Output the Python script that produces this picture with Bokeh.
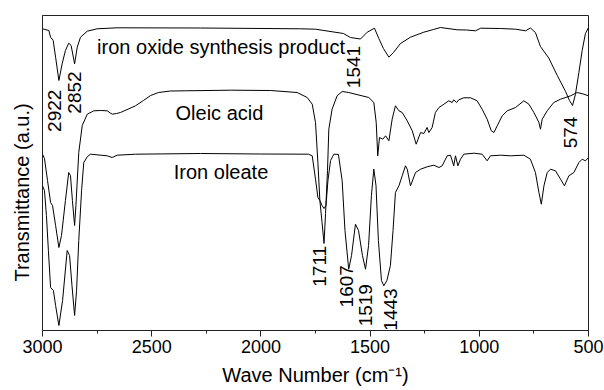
import math
from bokeh.plotting import figure
from bokeh.models import Range1d, FixedTicker, Label, ColumnDataSource
from bokeh.core.properties import value
from bokeh.embed import file_html
from bokeh.resources import INLINE

# ---------------- data ----------------
product_wn = [3000, 2971, 2963, 2951, 2940, 2925, 2910, 2895, 2880, 2869, 2853, 2841, 2826, 2795,
              2750, 2658, 2277, 1819, 1750, 1622, 1590, 1544, 1513, 1480, 1460, 1439, 1414, 1393,
              1361, 1315, 1254, 1210, 1178, 1101, 1059, 1017, 994, 903, 834, 788, 766, 743, 720,
              682, 643, 605, 587, 573, 560, 544, 529, 514, 500]
product_t = [301.7, 300, 293.3, 290, 273.3, 250, 266.7, 280, 287.3, 285, 266.7, 283.3, 293.3, 299.3,
             301.7, 302.7, 302.5, 301.7, 301.3, 297, 293, 291.5, 298.3, 302.3, 292, 282, 273.3, 278,
             287, 293.3, 298.3, 301, 303, 300.7, 300.5, 299.7, 302.3, 302, 301.3, 299.7, 302.5, 298, 284,
             272.5, 255, 239, 230, 225, 236, 258, 280, 297, 303]

oleic_wn = [3000, 2991, 2977, 2963, 2954, 2940, 2925, 2913, 2895, 2880, 2872, 2863, 2853, 2847, 2834,
            2818, 2795, 2765, 2734, 2704, 2681, 2661, 2643, 2574, 2538, 2505, 2469, 2414, 2345, 2139,
            1956, 1834, 1788, 1765, 1750, 1739, 1730, 1720, 1711, 1704, 1695, 1689, 1674, 1651, 1628,
            1598, 1506, 1483, 1472, 1465, 1457, 1442, 1429, 1414, 1399, 1384, 1368, 1353, 1330, 1307,
            1289, 1269, 1254, 1239, 1231, 1216, 1201, 1185, 1162, 1140, 1124, 1117, 1104, 1094, 1071,
            1040, 1010, 987, 964, 945, 933, 918, 895, 872, 834, 796, 773, 750, 727, 720, 712, 689,
            659, 628, 582, 552, 521, 500]
oleic_t = [176.3, 172, 150, 128, 125, 105, 83, 95, 130, 158, 155, 130, 105, 125, 178,
           205, 216.3, 219.7, 220, 219.7, 216.3, 217, 218, 224.7, 230, 235, 238, 239.5, 239.7, 240.3,
           240, 238, 233, 226.3, 208, 168, 130, 108, 87, 117, 160, 201.3, 221.3, 234.7, 239,
           238, 233, 228, 208, 174.7, 193, 191.3, 194.7, 189.7, 211.3, 224.7, 219.7, 218, 209.7, 199.7,
           186.3, 198, 197, 203, 198, 203, 218, 223, 226.3, 229.7, 228, 230.7, 228, 230.7, 232.7,
           232.7, 229.7, 221.3, 211.3, 199.7, 198, 204.7, 214.7, 219.7, 223, 229.7, 226.3, 218, 208, 201.3, 211.3, 219.7,
           228, 231.3, 234.7, 238, 236.3, 234.7]

oleate_wn = [3000, 2991, 2982, 2973, 2963, 2950, 2940, 2925, 2908, 2887, 2876, 2865, 2853, 2844, 2834,
             2821, 2811, 2794, 2780, 2704, 2681, 2658, 2574, 2277, 2002, 1782, 1765, 1750, 1739, 1730,
             1720, 1711, 1702, 1693, 1681, 1666, 1645, 1628, 1615, 1598, 1585, 1567, 1553, 1535, 1521,
             1507, 1494, 1483, 1473, 1462, 1448, 1437, 1423, 1407, 1395, 1384, 1368, 1353, 1338, 1330,
             1315, 1292, 1269, 1239, 1208, 1185, 1170, 1147, 1132, 1117, 1109, 1098, 1086, 1071, 1025,
             987, 964, 949, 903, 857, 796, 766, 743, 727, 716, 704, 689, 674, 651, 628, 610, 590, 567,
             544, 529, 514, 500]
oleate_t = [144.7, 140, 115, 80, 43, 40, 25, 5, 30, 80, 75, 45, 15, 40, 90,
            140, 168, 174, 176.3, 174.7, 173, 175.3, 176.3, 177, 176.5, 176.3, 174.7, 151.3, 133, 130,
            125, 122, 125, 150, 170, 176.3, 176, 150, 100, 61.3, 75, 106.3, 100, 75, 61.3,
            85, 135, 161.3, 145, 90, 50, 44.7, 50, 65, 100, 138, 144.7, 154.7, 164.7, 161.3,
            144.7, 158, 161.3, 163.7, 165.3, 163, 164.7, 174.7, 175.3, 164.7, 174.7, 164.7, 171.3, 176.3, 177.3,
            176.3, 169.7, 174.7, 175.3, 174.7, 175.3, 171.3, 158, 138, 126.3, 144.7, 158, 161.3, 159.7, 151.3, 144.7, 154.7, 158,
            168, 171.3, 169.7, 173]

curve_names = ["iron oxide synthesis product", "Oleic acid", "Iron oleate"]
peak_labels = ["2922", "2852", "1541", "574", "1711", "1607", "1519", "1443"]
x_major_ticks = [3000, 2500, 2000, 1500, 1000, 500]
x_minor_ticks = [2750, 2250, 1750, 1250, 750]
y_title = "Transmittance (a.u.)"

# ---------------- layout / style ----------------
FONT = "Liberation Sans"
curve_label_x = [2750, 2391, 2399]
curve_label_y = [283.3, 217.3, 158.3]
peak_label_x = [2946, 2853, 1575, 584, 1732, 1608, 1521, 1408]
peak_label_y = [219.7, 238, 263.5, 198, 64.2, 44.2, 25.3, 21]

p = figure(width=604, height=390, x_range=Range1d(3000, 500), y_range=Range1d(0, 315),
           output_backend="svg", toolbar_location=None,
           min_border_left=42, min_border_right=16, min_border_top=15, min_border_bottom=60)
p.background_fill_color = "white"
p.border_fill_color = "white"
p.grid.visible = False
p.outline_line_color = "#222222"
p.outline_line_width = 1

for xs, ys in [(product_wn, product_t), (oleic_wn, oleic_t), (oleate_wn, oleate_t)]:
    p.line(xs, ys, line_color="black", line_width=1)

xa = p.xaxis[0]
xa.ticker = FixedTicker(ticks=x_major_ticks, minor_ticks=x_minor_ticks)
xa.major_tick_in = 0
xa.major_tick_out = 6
xa.minor_tick_in = 0
xa.minor_tick_out = 3
xa.axis_line_color = "#222222"
xa.major_tick_line_color = "#222222"
xa.minor_tick_line_color = "#222222"
xa.major_label_text_font = FONT
xa.major_label_text_font_size = "18px"
xa.major_label_text_color = "black"
xa.major_label_standoff = 3
xa.axis_label = "Wave Number (cm\u207b\u00b9)"
xa.axis_label_text_font = FONT
xa.axis_label_text_font_size = "20px"
xa.axis_label_text_font_style = "normal"
xa.axis_label_text_color = "black"
xa.axis_label_standoff = 8

# y title sits a little below the frame's middle in the reference: pad its top end
ya = p.yaxis[0]
ya.ticker = FixedTicker(ticks=[])
ya.major_tick_line_color = None
ya.minor_tick_line_color = None
ya.axis_line_color = "#222222"
ya.axis_label = y_title + "\u00a0" * 7
ya.axis_label_text_font = FONT
ya.axis_label_text_font_size = "20px"
ya.axis_label_text_font_style = "normal"
ya.axis_label_text_color = "black"
ya.axis_label_standoff = 10

for name, lx, ly in zip(curve_names, curve_label_x, curve_label_y):
    p.add_layout(Label(x=lx, y=ly, text=name, text_align="left", text_baseline="alphabetic",
                       text_font=FONT, text_font_size="20px", text_color="black"))

src = ColumnDataSource(dict(x=peak_label_x, y=peak_label_y, t=peak_labels))
p.text(x="x", y="y", text="t", source=src, angle=math.pi / 2, text_align="center",
       text_baseline="middle", text_font=value(FONT), text_font_size="19px", text_color="black")

open("out.html", "w").write(file_html(p, INLINE))
